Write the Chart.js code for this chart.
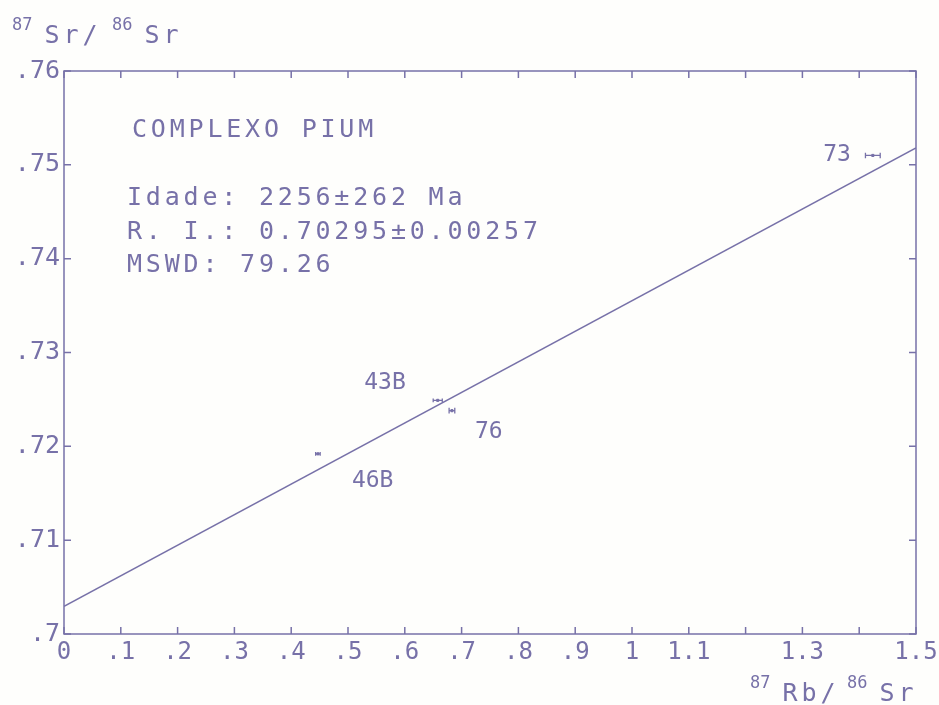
<!DOCTYPE html>
<html>
<head>
<meta charset="utf-8">
<script src="https://cdn.jsdelivr.net/npm/chart.js@4/dist/chart.umd.min.js"></script>
<style>
  html, body { margin: 0; padding: 0; background: #fefefc; }
  #wrap { width: 939px; height: 705px; }
</style>
</head>
<body>
<div id="wrap"><canvas id="myChart" width="939" height="705"></canvas></div>
<script>
// samples: 87Rb/86Sr vs 87Sr/86Sr
var sampleNames = ['46B', '43B', '76', '73'];
var rbSr = [0.447, 0.658, 0.683, 1.424];
var srSr = [0.7192, 0.7249, 0.7238, 0.7510];
var rbErr = [0.004, 0.008, 0.005, 0.013];
var srErr = [0.0002, 0.0002, 0.0003, 0.0003];

// isochron end points
var isoX = [0, 1.5];
var isoY = [0.70295, 0.7518];

var xTicks = [0, 0.1, 0.2, 0.3, 0.4, 0.5, 0.6, 0.7, 0.8, 0.9, 1.0, 1.1, 1.2, 1.3, 1.4, 1.5];
var xTickLabels = ['0', '.1', '.2', '.3', '.4', '.5', '.6', '.7', '.8', '.9', '1', '1.1', '', '1.3', '', '1.5'];
var yTicks = [0.70, 0.71, 0.72, 0.73, 0.74, 0.75, 0.76];
var yTickLabels = ['.7', '.71', '.72', '.73', '.74', '.75', '.76'];

var infoLines = ['Idade: 2256\u00b1262 Ma', 'R. I.: 0.70295\u00b10.00257', 'MSWD: 79.26'];
var infoTitle = 'COMPLEXO PIUM';

var ink = '#7771a8';
var mono = '"DejaVu Sans Mono", monospace';

var samplePoints = rbSr.map(function (x, i) { return {x: x, y: srSr[i]}; });
var isoPoints = isoX.map(function (x, i) { return {x: x, y: isoY[i]}; });

// label offsets (px) relative to each sample
var labelPos = {
  '46B': {dx: 34, dy: 27, align: 'left'},
  '43B': {dx: -32, dy: -17, align: 'right'},
  '76': {dx: 23, dy: 21, align: 'left'},
  '73': {dx: -22, dy: 0, align: 'right'}
};

function drawSup(ctx, x, y, sup, main) {
  ctx.font = '17px ' + mono;
  ctx.letterSpacing = '0px';
  ctx.fillText(sup, x, y - 13);
  var w = ctx.measureText(sup).width;
  ctx.font = '25px ' + mono;
  ctx.letterSpacing = '4px';
  ctx.fillText(main, x + w + 12, y);
}

var plotterBits = {
  id: 'plotterBits',
  beforeDraw: function (chart) {
    var ctx = chart.ctx;
    ctx.save();
    ctx.fillStyle = '#fefefc';
    ctx.fillRect(0, 0, chart.width, chart.height);
    ctx.restore();
  },
  afterDatasetsDraw: function (chart) {
    var ctx = chart.ctx;
    var a = chart.chartArea;
    var xs = chart.scales.x, ys = chart.scales.y;
    ctx.save();
    ctx.strokeStyle = ink;
    ctx.fillStyle = ink;
    ctx.lineWidth = 1.5;

    // frame
    ctx.strokeRect(a.left, a.top, a.right - a.left, a.bottom - a.top);

    // inward ticks on all four sides
    var tl = 7;
    ctx.beginPath();
    xTicks.forEach(function (v) {
      var px = xs.getPixelForValue(v);
      ctx.moveTo(px, a.bottom); ctx.lineTo(px, a.bottom - tl);
      ctx.moveTo(px, a.top); ctx.lineTo(px, a.top + tl);
    });
    yTicks.forEach(function (v) {
      var py = ys.getPixelForValue(v);
      ctx.moveTo(a.left, py); ctx.lineTo(a.left + tl, py);
      ctx.moveTo(a.right, py); ctx.lineTo(a.right - tl, py);
    });
    ctx.stroke();

    // error bars
    ctx.lineWidth = 1.3;
    ctx.beginPath();
    rbSr.forEach(function (x, i) {
      var x0 = xs.getPixelForValue(x - rbErr[i]);
      var x1 = xs.getPixelForValue(x + rbErr[i]);
      var y0 = ys.getPixelForValue(srSr[i] - srErr[i]);
      var y1 = ys.getPixelForValue(srSr[i] + srErr[i]);
      var yc = ys.getPixelForValue(srSr[i]);
      ctx.moveTo(x0, yc); ctx.lineTo(x1, yc);
      ctx.moveTo(x0, y0); ctx.lineTo(x0, y1);
      ctx.moveTo(x1, y0); ctx.lineTo(x1, y1);
    });
    ctx.stroke();

    // sample labels
    ctx.font = '23px ' + mono;
    ctx.textBaseline = 'middle';
    sampleNames.forEach(function (n, i) {
      var p = labelPos[n];
      ctx.textAlign = p.align;
      ctx.fillText(n, xs.getPixelForValue(rbSr[i]) + p.dx, ys.getPixelForValue(srSr[i]) + p.dy);
    });

    // annotation block
    ctx.textAlign = 'left';
    ctx.textBaseline = 'alphabetic';
    ctx.font = '25px ' + mono;
    ctx.letterSpacing = '3.8px';
    ctx.fillText(infoTitle, a.left + 68, a.top + 66);
    infoLines.forEach(function (t, i) {
      ctx.fillText(t, a.left + 63, a.top + 134 + i * 33.5);
    });

    // axis titles
    drawSup(ctx, 12, 43, '87', 'Sr/');
    drawSup(ctx, 112, 43, '86', 'Sr');
    drawSup(ctx, 750, 701, '87', 'Rb/');
    drawSup(ctx, 847, 701, '86', 'Sr');

    ctx.restore();
  }
};

var ctx = document.getElementById('myChart').getContext('2d');
var myChart = new Chart(ctx, {
  type: 'scatter',
  data: {
    datasets: [{
      label: 'isocrona',
      data: isoPoints,
      showLine: true,
      borderColor: ink,
      borderWidth: 1.6,
      pointRadius: 0,
      fill: false
    }, {
      label: 'amostras',
      data: samplePoints,
      pointStyle: 'rect',
      pointRadius: 1.5,
      borderColor: ink,
      backgroundColor: ink,
      borderWidth: 1
    }]
  },
  options: {
    responsive: false,
    animation: false,
    layout: {
      padding: {top: 71, right: 23, left: 0, bottom: 0}
    },
    plugins: {
      legend: {display: false},
      tooltip: {enabled: false}
    },
    scales: {
      x: {
        type: 'linear',
        min: 0,
        max: 1.5,
        grid: {display: false, drawTicks: false},
        border: {display: false},
        afterBuildTicks: function (s) {
          s.ticks = xTicks.map(function (v) { return {value: v}; });
        },
        afterFit: function (s) {
          s.height = 71;
          s.paddingLeft = 0;
          s.paddingRight = 0;
        },
        ticks: {
          autoSkip: false,
          maxRotation: 0,
          padding: 4,
          color: ink,
          font: {family: mono, size: 24},
          callback: function (v, i) { return xTickLabels[i]; }
        }
      },
      y: {
        type: 'linear',
        min: 0.70,
        max: 0.76,
        grid: {display: false, drawTicks: false},
        border: {display: false},
        afterBuildTicks: function (s) {
          s.ticks = yTicks.map(function (v) { return {value: v}; });
        },
        afterFit: function (s) {
          s.width = 64;
          s.paddingTop = 0;
          s.paddingBottom = 0;
        },
        ticks: {
          autoSkip: false,
          padding: 4,
          color: ink,
          font: {family: mono, size: 25},
          callback: function (v, i) { return yTickLabels[i]; }
        }
      }
    }
  },
  plugins: [plotterBits]
});
</script>
</body>
</html>
